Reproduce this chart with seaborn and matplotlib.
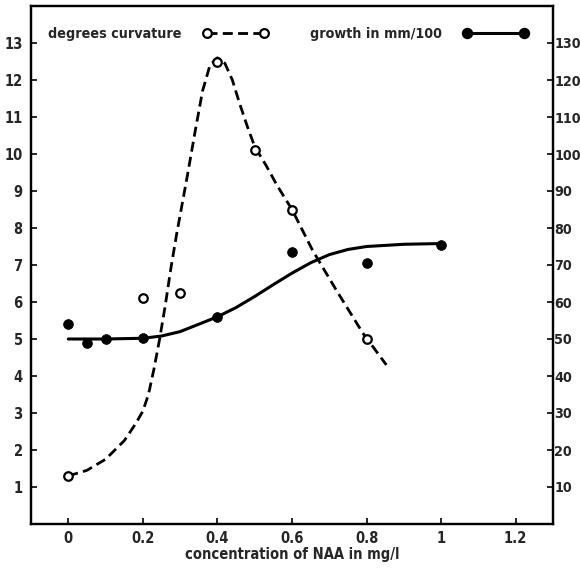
import matplotlib
matplotlib.use("Agg")
import matplotlib.pyplot as plt
from matplotlib.lines import Line2D
import seaborn as sns
import pandas as pd

# ---- data ----
curv_x = [0, 0.2, 0.3, 0.4, 0.5, 0.6, 0.8]
curv_y = [1.3, 6.1, 6.25, 12.5, 10.1, 8.5, 5.0]

growth_x = [0, 0.05, 0.1, 0.2, 0.4, 0.6, 0.8, 1.0]
growth_y = [54, 49, 50, 50.3, 56, 73.5, 70.5, 75.5]

# hand-drawn fitted curves
curv_fit_x = [0, 0.05, 0.1, 0.15, 0.18, 0.2, 0.215, 0.23, 0.245, 0.26, 0.275,
              0.29, 0.32, 0.34, 0.36, 0.38, 0.4, 0.42, 0.44, 0.46, 0.48, 0.5,
              0.53, 0.56, 0.6, 0.655, 0.72, 0.79, 0.853]
curv_fit_y = [1.3, 1.45, 1.75, 2.25, 2.7, 3.05, 3.5, 4.2, 5.0, 5.9, 6.9,
              7.8, 9.45, 10.6, 11.7, 12.4, 12.6, 12.45, 12.0, 11.35, 10.75, 10.2,
              9.7, 9.15, 8.5, 7.4, 6.3, 5.16, 4.3]

growth_fit_x = [0, 0.1, 0.2, 0.25, 0.3, 0.35, 0.4, 0.45, 0.5, 0.55, 0.6, 0.65,
                0.7, 0.75, 0.8, 0.9, 1.0]
growth_fit_y = [50, 50, 50.2, 50.8, 52, 54, 56, 58.5, 61.5, 64.7, 67.8, 70.6,
                72.8, 74.2, 75, 75.6, 75.8]

x_ticks = [0, 0.2, 0.4, 0.6, 0.8, 1.0, 1.2]
x_tick_labels = ["0", "0.2", "0.4", "0.6", "0.8", "1", "1.2"]
left_ticks = list(range(1, 14))
right_ticks = list(range(10, 131, 10))

label_curv = "degrees curvature"
label_growth = "growth in mm/100"
x_label = "concentration of NAA in mg/l"

# ---- style ----
sns.set_style("ticks")
plt.rcParams["font.family"] = ["DejaVu Sans"]
plt.rcParams["font.weight"] = "bold"
plt.rcParams["font.stretch"] = "condensed"

fig = plt.figure(figsize=(5.8, 5.69), dpi=100)
ax = fig.add_axes([31 / 580, 45 / 569, 522 / 580, 518 / 569])
ax2 = ax.twinx()

df_cf = pd.DataFrame({"x": curv_fit_x, "y": curv_fit_y})
df_gf = pd.DataFrame({"x": growth_fit_x, "y": growth_fit_y})
df_c = pd.DataFrame({"x": curv_x, "y": curv_y})
df_g = pd.DataFrame({"x": growth_x, "y": growth_y})

sns.lineplot(data=df_cf, x="x", y="y", ax=ax, color="black", lw=2.0,
             sort=False, estimator=None)
ax.lines[-1].set_dashes([3.6, 1.9])
sns.scatterplot(data=df_c, x="x", y="y", ax=ax, s=38, facecolor="white",
                edgecolor="black", linewidth=1.6, zorder=5)

sns.lineplot(data=df_gf, x="x", y="y", ax=ax2, color="black", lw=2.2,
             sort=False, estimator=None)
sns.scatterplot(data=df_g, x="x", y="y", ax=ax2, s=50, color="black",
                edgecolor="black", linewidth=0.5, zorder=5)

ax.set_xlim(-0.1, 1.3)
ax.set_ylim(0, 14)
ax2.set_ylim(0, 140)

ax.set_xticks(x_ticks)
ax.set_xticklabels(x_tick_labels)
ax.set_yticks(left_ticks)
ax.set_yticklabels([str(v) for v in left_ticks])
ax2.set_yticks(right_ticks)
ax2.set_yticklabels([str(v) for v in right_ticks])

ax.set_xlabel(x_label, fontsize=10.5, fontweight="bold", labelpad=1)
ax.set_ylabel("")
ax2.set_ylabel("")

for a in (ax, ax2):
    for s in a.spines.values():
        s.set_linewidth(1.6)
        s.set_color("black")
ax.tick_params(axis="both", direction="in", length=4, width=1.4,
               labelsize=10.5, pad=6)
ax.tick_params(axis="x", pad=5)
ax2.tick_params(axis="y", direction="in", length=4, width=1.4,
                labelsize=10.3, pad=1)

h1 = Line2D([], [], color="black", lw=2.0, dashes=[3.6, 1.9], marker="o",
            markersize=6.3, markerfacecolor="white", markeredgewidth=1.6)
h2 = Line2D([], [], color="black", lw=2.2, marker="o", markersize=7.2,
            markerfacecolor="black")
leg = ax2.legend([h1, h2], [label_curv, label_growth], ncol=2, markerfirst=False,
                 frameon=False, loc="upper left", bbox_to_anchor=(0.008, 0.985),
                 numpoints=2, handlelength=4.6, handletextpad=1.45,
                 columnspacing=2.9, prop={"size": 10.3, "weight": "bold",
                                          "stretch": "condensed"})

fig.savefig("out.png", dpi=100)
